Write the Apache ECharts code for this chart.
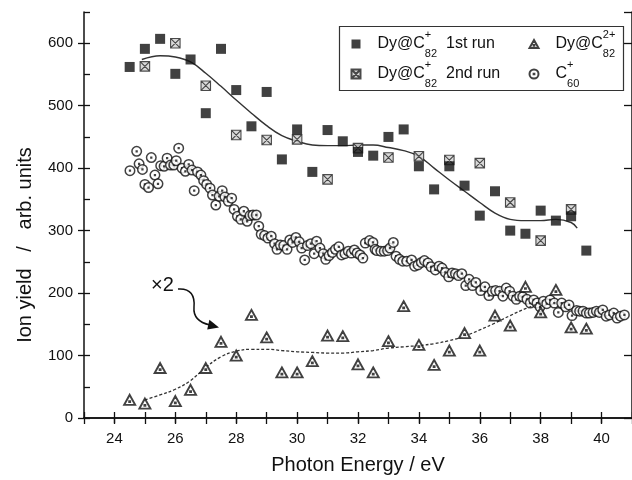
<!DOCTYPE html>
<html><head><meta charset="utf-8">
<script src="https://cdn.jsdelivr.net/npm/echarts@6/dist/echarts.min.js"></script>
<style>html,body{margin:0;padding:0;background:#fff}#c{width:632px;height:480px}</style>
</head><body><div id="c"></div>
<script>
// ---- data ----
const run1Energy = [24.5,25,25.5,26,26.5,27,27.5,28,28.5,29,29.5,30,30.5,31,31.5,32,32.5,33,33.5,34,34.5,35,35.5,36,36.5,37,37.5,38,38.5,39,39.5];
const run1Yield  = [562,591,607,551,574,488,591,525,467,522,414,462,394,461,443,426,420,450,462,403,366,403,372,324,363,300,295,332,316,323,268];

const run2Energy = [25,26,27,28,29,30,31,32,33,34,35,36,37,38,39];
const run2Yield  = [563,600,532,453,445,446,382,432,417,419,413,408,345,284,334];

const dicationEnergy = [24.5,25,25.5,26,26.5,27,27.5,28,28.5,29,29.5,30,30.5,31,31.5,32,32.5,33,33.5,34,34.5,35,35.5,36,36.5,37,37.5,38,38.5,39,39.5];
const dicationYield  = [29,23,80,27,45,80,122,100,165,129,73,73,91,132,131,86,73,123,179,117,85,108,136,108,164,148,210,169,205,145,143];

const c60Energy = [24.51,24.73,24.81,24.92,25.00,25.12,25.21,25.33,25.43,25.52,25.63,25.73,25.84,25.95,26.03,26.11,26.22,26.33,26.44,26.55,26.62,26.73,26.84,26.93,27.03,27.14,27.22,27.33,27.44,27.54,27.63,27.74,27.85,27.93,28.04,28.15,28.25,28.36,28.45,28.55,28.66,28.74,28.82,28.93,29.04,29.15,29.26,29.34,29.45,29.56,29.67,29.76,29.85,29.96,30.07,30.15,30.25,30.34,30.45,30.56,30.64,30.75,30.86,30.94,31.05,31.16,31.26,31.37,31.46,31.57,31.68,31.78,31.88,31.97,32.07,32.16,32.24,32.38,32.49,32.56,32.62,32.75,32.86,32.97,33.05,33.16,33.25,33.36,33.47,33.60,33.76,33.86,33.97,34.08,34.18,34.30,34.40,34.54,34.66,34.76,34.87,34.98,35.09,35.20,35.30,35.41,35.54,35.65,35.76,35.87,36.03,36.17,36.30,36.41,36.52,36.65,36.76,36.87,36.98,37.09,37.20,37.31,37.41,37.55,37.66,37.77,37.88,37.98,38.09,38.20,38.31,38.45,38.58,38.69,38.82,38.93,39.03,39.18,39.28,39.39,39.50,39.60,39.72,39.83,39.93,40.04,40.15,40.26,40.40,40.51,40.62,40.75];
const c60Yield  = [396,427,407,398,374,369,417,389,375,404,403,416,405,405,412,432,400,395,406,397,364,394,389,380,374,368,357,341,355,364,354,347,352,334,323,318,331,315,324,325,325,307,294,292,288,291,279,270,277,276,270,285,281,289,282,272,253,276,279,263,283,272,263,254,260,265,270,274,261,263,267,264,269,264,261,256,280,284,281,270,268,267,267,268,272,281,259,254,251,251,253,243,245,249,252,248,242,237,243,240,233,226,232,231,228,231,212,222,212,217,204,210,196,203,204,203,195,208,203,195,190,195,194,190,184,189,184,178,187,183,189,184,169,184,178,181,164,172,171,171,168,168,169,171,169,173,163,165,168,160,163,165];

const fit1Energy = [24.9,25.5,26,26.5,27,27.5,28,28.5,29,29.5,30,30.5,31,31.5,32,32.5,33,33.5,34,34.5,35,35.5,36,36.5,37,37.5,38,38.5,39,39.2];
const fit1Yield  = [574,580,578,570,552,531,509,488,468,452,443,437,436,436,437,437,433,428,419,400,381,363,345,328,318,316,316,318,313,304];

const fit2Energy = [25,25.5,26,26.5,27,27.5,28,28.5,29,29.5,30,30.5,31,31.5,32,32.5,33,33.5,34,34.5,35,35.5,36,36.5,37,37.5,38];
const fit2Yield  = [29,37,46,60,81,98,107,110,110,108,106,105,104,104,106,108,112,114,116,119,124,131,141,152,164,175,184];

const xTickLabels = [24,26,28,30,32,34,36,38,40];
const yTickLabels = [0,100,200,300,400,500,600];

const seriesNames = ['Dy@C82+ 1st run','Dy@C82+ 2nd run','Dy@C82 2+','C60+'];
const legendTexts = {
  'Dy@C82+ 1st run': '{p| }{t|Dy@C}{sup|+}{sub|82}{t|  1st run}',
  'Dy@C82+ 2nd run': '{p| }{t|Dy@C}{sup|+}{sub|82}{t|  2nd run}',
  'Dy@C82 2+': '{p| }{t|Dy@C}{sup|2+}{sub|82}',
  'C60+': '{p| }{t|C}{sup|+}{sub|60}'
};

// ---- chart ----
const zip = (xs, ys) => xs.map((x, i) => [x, ys[i]]);
const FONT = '"Liberation Sans", Arial, sans-serif';
const INK = '#111';
const rich = {
  p: {width: 12, fontSize: 16, lineHeight: 30},
  t: {fontSize: 16, fontFamily: FONT, color: INK, lineHeight: 30},
  sup: {fontSize: 11, fontFamily: FONT, color: INK, lineHeight: 16, verticalAlign: 'top', width: 0},
  sub: {fontSize: 11, fontFamily: FONT, color: INK, lineHeight: 12, verticalAlign: 'bottom'}
};
const SYM_CROSS = 'path://M0,0 L10,0 L10,10 L0,10 Z M0,0 L10,10 M10,0 L0,10';
const SYM_TRI = 'path://M5,0 L10,9 L0,9 Z M4.6,5.6 L5.4,5.6 L5.4,6.4 L4.6,6.4 Z';
const SYM_CIRC = 'path://M0,5 A5,5 0 1 1 10,5 A5,5 0 1 1 0,5 Z M4.6,4.6 L5.4,4.6 L5.4,5.4 L4.6,5.4 Z';

const axisLine = {show: true, lineStyle: {color: INK, width: 1.5}};
const tickStyle = {color: INK, width: 1.3};
const xBase = {type: 'value', min: 23, max: 41, splitLine: {show: false}};
const yBase = {type: 'value', min: 0, max: 650, splitLine: {show: false}};

const legendCommon = {
  orient: 'vertical', top: 29, itemGap: 0, itemWidth: 9, itemHeight: 9, padding: 0,
  selectedMode: false, z: 6,
  formatter: n => legendTexts[n],
  textStyle: {rich: rich, fontSize: 16, fontFamily: FONT, color: INK}
};

const option = {
  animation: false,
  backgroundColor: '#fff',
  grid: {left: 84, top: 12, right: -6, bottom: 62, containLabel: false},
  xAxis: [
    Object.assign({}, xBase, {position: 'bottom', interval: 1, axisLine: axisLine,
      axisTick: {show: true, inside: true, length: 6, lineStyle: tickStyle}, axisLabel: {show: false}}),
    Object.assign({}, xBase, {position: 'bottom', axisLine: {show: false},
      axisTick: {show: true, inside: false, length: 5, customValues: xTickLabels, lineStyle: tickStyle},
      axisLabel: {show: true, customValues: xTickLabels, fontSize: 15, fontFamily: FONT, color: INK, margin: 13},
      name: 'Photon Energy / eV', nameLocation: 'middle', nameGap: 37,
      nameTextStyle: {fontSize: 20, fontFamily: FONT, color: INK}}),
    Object.assign({}, xBase, {position: 'top', interval: 1, axisLine: axisLine,
      axisTick: {show: true, inside: true, length: 6, lineStyle: tickStyle}, axisLabel: {show: false}})
  ],
  yAxis: [
    Object.assign({}, yBase, {position: 'left', interval: 50, axisLine: axisLine,
      axisTick: {show: true, inside: true, length: 6, lineStyle: tickStyle}, axisLabel: {show: false}}),
    Object.assign({}, yBase, {position: 'left', axisLine: {show: false},
      axisTick: {show: true, inside: false, length: 6, customValues: yTickLabels, lineStyle: tickStyle},
      axisLabel: {show: true, customValues: yTickLabels, fontSize: 15, fontFamily: FONT, color: INK, margin: 11},
      name: 'Ion yield   /   arb. units', nameLocation: 'middle', nameGap: 49, nameRotate: 90,
      nameTextStyle: {fontSize: 20, fontFamily: FONT, color: INK, padding: [0, 60, 0, 0]}}),
    Object.assign({}, yBase, {position: 'right', interval: 100, axisLine: axisLine,
      axisTick: {show: true, inside: true, length: 8, lineStyle: tickStyle}, axisLabel: {show: false}})
  ],
  legend: [
    Object.assign({}, legendCommon, {left: 350.5, data: [seriesNames[0], seriesNames[1]]}),
    Object.assign({}, legendCommon, {left: 528.5, data: [seriesNames[2], seriesNames[3]]})
  ],
  graphic: [
    {type: 'rect', z: 5, shape: {x: 339.5, y: 26.5, width: 284, height: 64},
     style: {fill: 'none', stroke: '#333', lineWidth: 1.2}},
    {type: 'text', z: 5, x: 151, y: 275, style: {text: '×2', font: '20px "Liberation Sans", Arial, sans-serif', fill: INK, textVerticalAlign: 'top'}},
    {type: 'bezierCurve', z: 5, shape: {x1: 178, y1: 289, cpx1: 191, cpy1: 288, cpx2: 195, cpy2: 296, x2: 194, y2: 307},
     style: {fill: 'none', stroke: INK, lineWidth: 1.5}},
    {type: 'bezierCurve', z: 5, shape: {x1: 194, y1: 307, cpx1: 193, cpy1: 318, cpx2: 201, cpy2: 323, x2: 210, y2: 325},
     style: {fill: 'none', stroke: INK, lineWidth: 1.5}},
    {type: 'polygon', z: 5, shape: {points: [[219, 327.5], [207.2, 329.5], [209.4, 319.8]]}, style: {fill: INK}}
  ],
  series: [
    {name: seriesNames[3], type: 'scatter', xAxisIndex: 0, yAxisIndex: 0, z: 2,
     symbol: SYM_CIRC, symbolSize: 9.5, data: zip(c60Energy, c60Yield),
     itemStyle: {color: '#fff', borderColor: INK, borderWidth: 1.5}},
    {name: 'fit1', type: 'line', xAxisIndex: 0, yAxisIndex: 0, z: 3, smooth: 0.4, showSymbol: false,
     data: zip(fit1Energy, fit1Yield), lineStyle: {color: '#333', width: 1.4}},
    {name: 'fit2', type: 'line', xAxisIndex: 0, yAxisIndex: 0, z: 3, smooth: 0.4, showSymbol: false,
     data: zip(fit2Energy, fit2Yield), lineStyle: {color: '#333', width: 1.3, type: [3, 2]}},
    {name: seriesNames[2], type: 'scatter', xAxisIndex: 0, yAxisIndex: 0, z: 4,
     symbol: SYM_TRI, symbolSize: [11, 10], data: zip(dicationEnergy, dicationYield),
     itemStyle: {color: '#fff', borderColor: INK, borderWidth: 1.9}},
    {name: seriesNames[1], type: 'scatter', xAxisIndex: 0, yAxisIndex: 0, z: 4,
     symbol: SYM_CROSS, symbolSize: 9.5, data: zip(run2Energy, run2Yield),
     itemStyle: {color: '#cfcfcf', borderColor: '#222', borderWidth: 1.1}},
    {name: seriesNames[0], type: 'scatter', xAxisIndex: 0, yAxisIndex: 0, z: 5,
     symbol: 'rect', symbolSize: 10, data: zip(run1Energy, run1Yield),
     itemStyle: {color: INK}}
  ]
};
const chart = echarts.init(document.getElementById('c'), null, {renderer: 'canvas'});
chart.setOption(option);
</script></body></html>
